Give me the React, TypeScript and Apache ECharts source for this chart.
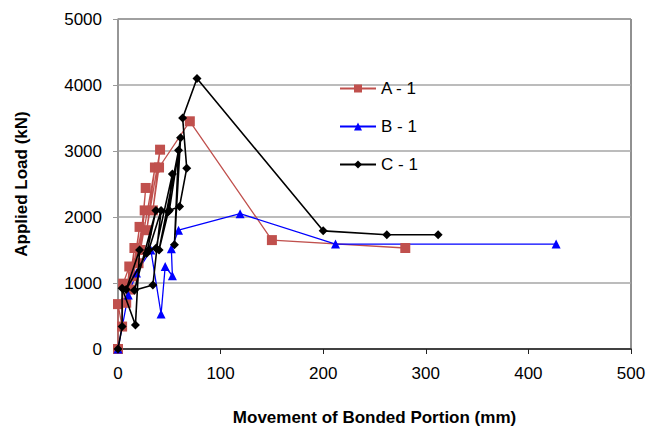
import React, { useEffect, useRef } from "react";
import * as echarts from "echarts";

const xTicks = [0, 100, 200, 300, 400, 500];
const yTicks = [0, 1000, 2000, 3000, 4000, 5000];

const seriesNames = ["A - 1", "B - 1", "C - 1"];

const a1: [number, number][] = [
  [0, 0], [0, 680], [4, 340], [5, 990], [11, 1250], [8, 700], [16, 1530], [12, 900],
  [21, 1850], [15, 1100], [26, 2100], [20, 1300], [27, 2440], [22, 1500], [36, 2750],
  [28, 1800], [41, 3020], [34, 2100], [40, 2750], [70, 3450], [150, 1650], [280, 1530],
];

const b1: [number, number][] = [
  [0, 0], [10, 820], [18, 1150], [32, 1500], [42, 530], [46, 1250], [53, 1110],
  [52, 1520], [59, 1800], [119, 2050], [212, 1590], [427, 1590],
];

const c1: [number, number][] = [
  [0, 0], [4, 340], [4, 920], [17, 364], [21, 1500], [8, 900], [28, 1450], [37, 2100],
  [16, 890], [34, 970], [42, 2100], [30, 1500], [37, 1525], [53, 2650], [49, 2080],
  [40, 1500], [59, 3010], [55, 1580], [61, 3200], [50, 2100], [60, 2160], [67, 2740],
  [63, 3500], [77, 4100], [200, 1790], [262, 1730], [312, 1730],
];

const colors = ["#c0504d", "#0000ff", "#000000"];
const symbols = ["rect", "triangle", "diamond"];

export default function App() {
  const ref = useRef<HTMLDivElement>(null);
  useEffect(() => {
    if (!ref.current) return;
    const chart = echarts.init(ref.current, undefined, { renderer: "svg" });
    const datas = [a1, b1, c1];
    chart.setOption({
      animation: false,
      backgroundColor: "#ffffff",
      textStyle: { fontFamily: "Liberation Sans, Arial, sans-serif" },
      grid: {
        left: 118,
        right: 28,
        top: 19,
        bottom: 92,
        show: true,
        borderColor: "#222",
        borderWidth: 1,
        backgroundColor: "transparent",
      },
      legend: {
        orient: "vertical",
        left: 334,
        top: 75,
        itemWidth: 36,
        itemHeight: 10,
        itemGap: 21,
        textStyle: { fontSize: 17, color: "#000", fontFamily: "Liberation Sans, Arial, sans-serif" },
        data: seriesNames,
      },
      xAxis: {
        type: "value",
        min: xTicks[0],
        max: xTicks[xTicks.length - 1],
        interval: 100,
        name: "Movement of Bonded Portion (mm)",
        nameLocation: "middle",
        nameGap: 60,
        nameTextStyle: { fontSize: 17, fontWeight: "bold", color: "#000" },
        axisLine: { show: true, lineStyle: { color: "#222", width: 1.5 } },
        axisTick: { show: true, inside: false, length: 5, lineStyle: { color: "#222" } },
        axisLabel: { fontSize: 17, color: "#000", margin: 16, formatter: (v: number) => String(v) },
        splitLine: { show: false },
      },
      yAxis: {
        type: "value",
        min: yTicks[0],
        max: yTicks[yTicks.length - 1],
        interval: 1000,
        name: "Applied Load (kN)",
        nameLocation: "middle",
        nameGap: 88,
        nameRotate: 90,
        nameTextStyle: { fontSize: 17, fontWeight: "bold", color: "#000" },
        axisLine: { show: true, lineStyle: { color: "#999", width: 1.5 } },
        axisTick: { show: true, inside: false, length: 5, lineStyle: { color: "#999" } },
        axisLabel: { fontSize: 17, color: "#000", margin: 16, formatter: (v: number) => String(v) },
        splitLine: { show: true, lineStyle: { color: "#a6a6a6", width: 1.5 } },
      },
      series: seriesNames.map((name, i) => ({
        name,
        type: "line",
        data: datas[i],
        symbol: symbols[i],
        symbolSize: i === 0 ? 10 : i === 1 ? 9 : 9,
        showAllSymbol: true,
        itemStyle: { color: colors[i] },
        lineStyle: { color: colors[i], width: i === 2 ? 1.6 : 1.3 },
        z: i === 2 ? 4 : 3,
      })),
    });
    return () => chart.dispose();
  }, []);
  return (
    <div
      ref={ref}
      style={{ position: "absolute", left: 0, top: 0, width: 659, height: 441 }}
    />
  );
}
